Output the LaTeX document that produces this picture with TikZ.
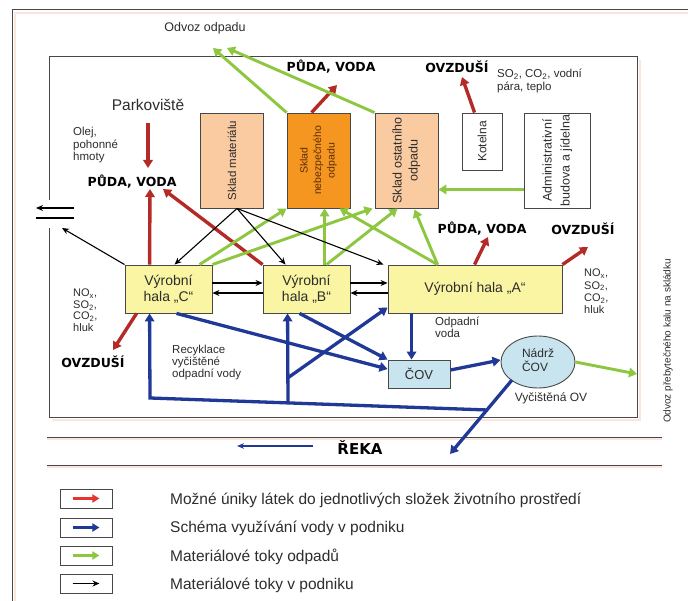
\documentclass[tikz,border=0pt]{standalone}
\usepackage{fontspec}
\setmainfont{Liberation Sans}
\newfontfamily\heavyfont{DejaVu Sans}
\usetikzlibrary{arrows.meta,calc,shapes.geometric}

\definecolor{framegray}{RGB}{72,72,72}
\definecolor{framepink}{RGB}{251,230,220}
\definecolor{txt}{RGB}{45,45,45}
\definecolor{hallyellow}{RGB}{250,245,162}
\definecolor{peach}{RGB}{250,202,160}
\definecolor{hazard}{RGB}{245,150,32}
\definecolor{hazardtxt}{RGB}{90,45,10}
\definecolor{lightblue}{RGB}{200,228,238}
\definecolor{flowred}{RGB}{180,42,38}
\definecolor{legred}{RGB}{230,52,48}
\definecolor{flowblue}{RGB}{32,56,150}
\definecolor{flowgreen}{RGB}{141,198,63}

\newcommand\fsz[2]{\fontsize{#1}{#2}\selectfont}

\tikzset{
  box/.style={draw=framegray, line width=0.9pt, inner sep=0pt, align=center, text=txt},
  hall/.style={box, fill=hallyellow, minimum width=87pt, minimum height=48pt, font=\fsz{14}{16}},
  store/.style={box, minimum width=63pt, minimum height=95pt},
  lbl/.style={inner sep=0pt, text=txt, font=\fsz{11}{12}},
  multi/.style={lbl, align=left, anchor=north west},
  heavy/.style={inner sep=0pt, text=black, font=\heavyfont\bfseries\fsz{12.5}{14}},
  tipbig/.style={-{Triangle[length=8pt,width=9.5pt]}},
  redflow/.style={draw=flowred, line width=3.4pt, tipbig},
  blueflow/.style={draw=flowblue, line width=3.3pt, tipbig},
  greenflow/.style={draw=flowgreen, line width=2.9pt, tipbig},
  blackflow/.style={draw=black, line width=1.1pt, -{Stealth[length=7pt,width=6pt]}},
  legbox/.style={draw=framegray, line width=0.9pt, minimum width=52pt, minimum height=19pt, inner sep=0pt},
  legtext/.style={inner sep=0pt, anchor=west, text=txt, font=\fsz{15.5}{17}},
}

\begin{document}
\begin{tikzpicture}[x=1pt,y=-1pt]
\useasboundingbox (0,0) rectangle (688,601);
\fill[white] (0,0) rectangle (688,601);

% outer sheet frame
\draw[framepink, line width=2pt] (15,601) -- (15,13) -- (688,13);
\draw[framegray, line width=1pt] (12,601) -- (12,10) -- (688,10);

% plant boundary, open on the left where the road leaves
\draw[framepink, line width=1.6pt] (640,60) -- (640,420) -- (52,420);
\draw[framegray, line width=1pt] (49,200) -- (49,57) -- (637,57) -- (637,417) -- (49,417) -- (49,228);

% river banks
\draw[framepink, line width=1.2pt] (47,439) -- (662,439) (47,467) -- (662,467);
\draw[framegray, line width=1pt] (47,437) -- (662,437) (47,465) -- (662,465);

% buildings
\node[store, fill=peach, font=\fsz{11.5}{13}] (matl) at (232,160.5) {\rotatebox{90}{Sklad materiálu}};
\node[store, fill=hazard, text=hazardtxt, font=\fsz{10.5}{13.5}] (nebezp) at (318.5,160.5)
  {\rotatebox{90}{\begin{tabular}{@{}c@{}}Sklad\\nebezpečného\\odpadu\end{tabular}}};
\node[store, fill=peach, font=\fsz{12.5}{16}] (ostat) at (406.5,160.5)
  {\rotatebox{90}{\begin{tabular}{@{}c@{}}Sklad ostatního\\odpadu\end{tabular}}};
\node[box, fill=white, minimum width=40pt, minimum height=57pt, font=\fsz{12}{13}] (kotel) at (482,141.5)
  {\rotatebox{90}{Kotelna}};
\node[box, fill=white, minimum width=66pt, minimum height=95pt, font=\fsz{12.5}{18}] (admin) at (557,160.5)
  {\rotatebox{90}{\begin{tabular}{@{}c@{}}Administrativní\\budova a jídelna\end{tabular}}};

\node[hall] (hallC) at (168.5,289) {Výrobní\\hala „C“};
\node[hall] (hallB) at (306.5,289) {Výrobní\\hala „B“};
\node[hall, minimum width=174pt] (hallA) at (475,289) {Výrobní hala „A“};

\node[box, fill=lightblue, minimum width=62pt, minimum height=28pt, font=\fsz{13}{15}] (cov) at (419,374) {ČOV};
\node[box, ellipse, fill=lightblue, minimum width=74pt, minimum height=52pt, font=\fsz{12}{13.5}] (nadrz) at (538,362)
  {\raisebox{5pt}{\begin{tabular}{@{}l@{}}Nádrž\\ČOV\end{tabular}}};

% texts
\node[lbl, font=\fsz{12.5}{14}] (odvoz) at (205,28) {Odvoz odpadu};
\node[heavy] (pudaT) at (331,67) {PŮDA, VODA};
\node[heavy] (ovzT) at (457,67) {OVZDUŠÍ};
\node[multi, font=\fsz{11.5}{12.5}] (kotelemis) at (497,69) {SO\textsubscript{2}, CO\textsubscript{2}, vodní\\pára, teplo};
\node[lbl, font=\fsz{15.5}{17}] (park) at (148,105) {Parkoviště};
\node[multi, font=\fsz{11.5}{12.5}] (olej) at (73,127) {Olej,\\pohonné\\hmoty};
\node[heavy] (pudaL) at (132,182) {PŮDA, VODA};
\node[heavy] (pudaR) at (482,229) {PŮDA, VODA};
\node[heavy] (ovzR) at (583,229) {OVZDUŠÍ};
\node[multi, font=\fsz{11}{11.5}] (emisC) at (73,289) {NO\textsubscript{x},\\SO\textsubscript{2},\\CO\textsubscript{2},\\hluk};
\node[multi, font=\fsz{11}{12.3}] (emisA) at (584,269) {NO\textsubscript{x},\\SO\textsubscript{2},\\CO\textsubscript{2},\\hluk};
\node[heavy] (ovzL) at (93,362) {OVZDUŠÍ};
\node[multi, font=\fsz{11.5}{12}] (recykl) at (172,345) {Recyklace\\vyčištěné\\odpadní vody};
\node[multi, font=\fsz{11.5}{11.5}] (odpvoda) at (435,317) {Odpadní\\voda};
\node[lbl, font=\fsz{12}{14}] (vycist) at (551,398) {Vyčištěná OV};
\node[lbl, font=\fsz{10}{12}, rotate=90] (kal) at (668,341) {Odvoz přebytečného kalu na skládku};
\node[heavy, font=\heavyfont\bfseries\fsz{15}{17}] (reka) at (360,448) {ŘEKA};

% free ends of connectors
\coordinate (odvoz1) at (213,48);
\coordinate (odvoz2) at (227,48);
\coordinate (pudaTa) at (337,85);
\coordinate (ovzTa) at (462,77);
\coordinate (park1) at (148,123);
\coordinate (park2) at (148,168);
\coordinate (pudaLa) at (150,189);
\coordinate (pudaLb) at (163,189);
\coordinate (ovzLa) at (113,350);
\coordinate (pudaRa) at (488,237);
\coordinate (ovzRa) at (588,247);
\coordinate (exitL) at (62,228);
\coordinate (road1) at (74,208);
\coordinate (road2) at (36,208);
\coordinate (road3) at (36,218);
\coordinate (road4) at (74,218);
\coordinate (kalend) at (637,374);
\coordinate (riverpt) at (450,454);
\coordinate (flow1) at (313,446);
\coordinate (flow2) at (237,446);
\coordinate (recL) at (150,398);
\coordinate (ms) at ($(matl.south)+(5,0)$);
\coordinate (nout) at ($(nadrz.center)+(-26,18)$);
\coordinate (recJ) at ($(nout)!0.405!(riverpt)$);
\coordinate (recB) at ($(recL)!0.4096!(recJ)$);
\coordinate (recB2) at ($(recB)!0.28!($(hallB.south west)+(25,0)$)$);

% possible leaks to the environment
\draw[redflow] (park1) -- (park2);
\draw[redflow] ($(hallC.north west)+(25,0)$) -- (pudaLa);
\draw[redflow] (hallB.north west) -- (pudaLb);
\draw[redflow] ($(hallC.south west)+(12,0)$) -- (ovzLa);
\draw[redflow] ($(nebezp.north west)+(25,0)$) -- (pudaTa);
\draw[redflow] ($(kotel.north west)+(13,0)$) -- (ovzTa);
\draw[redflow] ($(hallA.north west)+(87,0)$) -- (pudaRa);
\draw[redflow] (hallA.north east) -- (ovzRa);

% waste flows
\draw[greenflow] (nebezp.north west) -- (odvoz1);
\draw[greenflow] (ostat.north west) -- (odvoz2);
\draw[greenflow] ($(admin.west)+(0,29)$) -- ($(ostat.east)+(0,29)$);
\draw[greenflow] ($(hallC.north west)+(75,0)$) -- (nebezp.south west);
\draw[greenflow] (hallC.north east) -- ($(ostat.south west)+(-2,0)$);
\draw[greenflow] ($(hallB.north west)+(62,0)$) -- ($(nebezp.south west)+(38,0)$);
\draw[greenflow] ($(hallB.north west)+(64,0)$) -- ($(ostat.south west)+(23,0)$);
\draw[greenflow] ($(hallA.north west)+(50,0)$) -- ($(nebezp.south west)+(53,0)$);
\draw[greenflow] ($(hallA.north west)+(50,0)$) -- ($(ostat.south west)+(40,1)$);
\draw[greenflow] (nadrz.east) -- (kalend);

% material flows
\draw[blackflow] (ms) -- ($(hallC.north west)+(50,0)$);
\draw[blackflow] (ms) -- ($(hallB.north west)+(23,0)$);
\draw[blackflow] (ms) -- ($(hallA.north west)+(-4,0)$);
\draw[blackflow] (hallC.north west) -- (exitL);
\draw[blackflow] ($(hallC.east)+(0,-6)$) -- ($(hallB.west)+(0,-6)$);
\draw[blackflow] ($(hallB.west)+(0,4)$) -- ($(hallC.east)+(0,4)$);
\draw[blackflow] ($(hallB.east)+(0,-6)$) -- ($(hallA.west)+(0,-6)$);
\draw[blackflow] ($(hallA.west)+(0,4)$) -- ($(hallB.east)+(0,4)$);
\draw[blackflow] (road1) -- (road2);
\draw[black, line width=1.1pt] (road3) -- (road4);

% water use
\draw[blueflow] ($(hallA.south west)+(24,0)$) -- ($(cov.north west)+(24,0)$);
\draw[blueflow] ($(hallC.south west)+(52,0)$) -- ($(cov.west)+(0,-5)$);
\draw[blueflow] ($(hallB.south west)+(37,0)$) -- ($(cov.north west)+(0,0)$);
\draw[blueflow] ($(cov.east)+(0,-4)$) -- ($(nadrz.west)+(0,-2)$);
\draw[blueflow] (nout) -- (riverpt);
\draw[blueflow] (recJ) -- (recL) -- ($(hallC.south west)+(25,0)$);
\draw[blueflow] (recB) -- ($(hallB.south west)+(25,0)$);
\draw[blueflow] (recB2) -- ($(hallA.south west)+(0,-6)$);
\draw[draw=flowblue, line width=1.5pt, -{Stealth[length=7pt,width=5.5pt]}] (flow1) -- (flow2);

% legend
\node[legbox] (lg1) at (86,498.5) {};
\node[legbox] (lg2) at (86,527.5) {};
\node[legbox] (lg3) at (86,555.5) {};
\node[legbox] (lg4) at (86,583.5) {};
\draw[draw=legred, line width=3pt, -{Triangle[length=7pt,width=8pt]}] ($(lg1.west)+(13,0)$) -- ($(lg1.east)+(-13,0)$);
\draw[draw=flowblue, line width=3pt, -{Triangle[length=7pt,width=8pt]}] ($(lg2.west)+(13,0)$) -- ($(lg2.east)+(-13,0)$);
\draw[draw=flowgreen, line width=3pt, -{Triangle[length=7pt,width=8pt]}] ($(lg3.west)+(13,0)$) -- ($(lg3.east)+(-13,0)$);
\draw[draw=black, line width=1.1pt, -{Stealth[length=7pt,width=6pt]}] ($(lg4.west)+(13,0)$) -- ($(lg4.east)+(-13,0)$);
\node[legtext] (lt1) at (170,500) {Možné úniky látek do jednotlivých složek životního prostředí};
\node[legtext] (lt2) at (170,528) {Schéma využívání vody v podniku};
\node[legtext] (lt3) at (170,557) {Materiálové toky odpadů};
\node[legtext] (lt4) at (170,585) {Materiálové toky v podniku};
\end{tikzpicture}
\end{document}
